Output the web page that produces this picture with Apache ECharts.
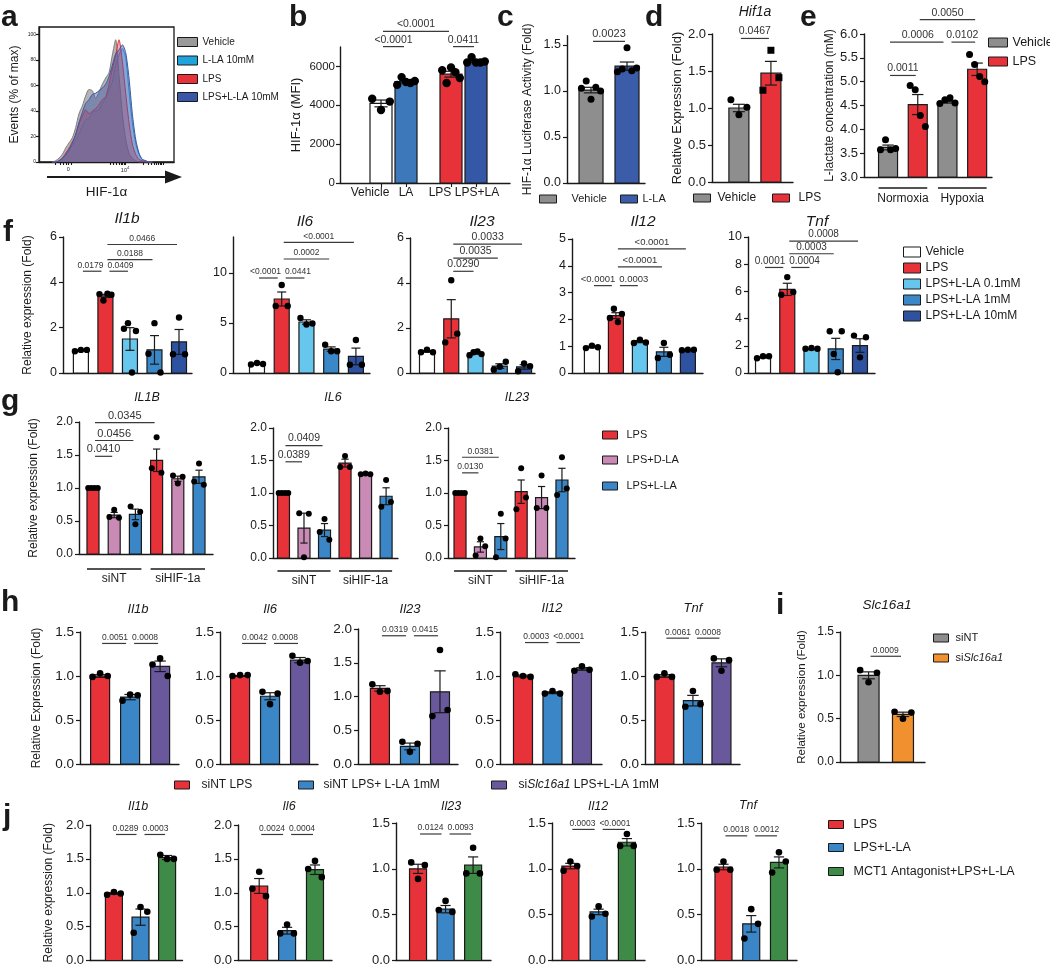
<!DOCTYPE html>
<html><head><meta charset="utf-8">
<script src="https://cdn.jsdelivr.net/npm/echarts@6.0.0/dist/echarts.min.js"></script>
<style>html,body{margin:0;padding:0;background:#fff}#c{width:1050px;height:967px}</style>
</head><body><div id="c"></div>
<script>
// ================= DATA =================
// a: flow cytometry histogram (% of max) over display channels
const aChannels = [40,50,60,70,80,90,100,110,120,130,140,150,160,170,180,190,200,210,220,230,240,250,260,270,280,290,300,310,320,330,340];
const aVehicle  = [0,1,3,6,11,15,19,27,38,44,52,57,56,50,55,61,66,70,84,96,68,38,18,7,3,1,0,0,0,0,0];
const aLLA      = [0,0,1,2,5,9,13,17,22,28,33,34,39,40,41,46,50,57,63,76,84,89,82,56,31,15,6,2,1,0,0];
const aLPS      = [0,0,1,3,7,11,16,21,30,36,41,38,40,42,45,49,51,61,73,84,96,79,54,31,14,6,2,1,0,0,0];
const aLPSLLA   = [0,0,1,3,6,10,15,22,31,39,46,49,53,54,56,58,61,67,76,85,88,92,86,66,38,18,7,2,1,0,0];
const aNames    = ['Vehicle','L-LA 10mM','LPS','LPS+L-LA 10mM'];

// b
const bCats = ['Vehicle','LA','LPS','LPS+LA'];
const bMean = [4095, 5220, 5600, 6266];
const bSem  = [175, 70, 150, 55];
const bPts  = [[4340,3760,4190],[5050,5450,5200,5150,5250],[5800,5150,5950,5700,5400],[6200,6480,6200,6200,6250]];
const bSig  = [[0,2,7800,'<0.0001'],[0,1,7020,'<0.0001'],[2,3,7020,'0.0411']];

// c
const cCats = ['Vehicle','L-LA'];
const cMean = [1.01, 1.27];
const cSem  = [0.03, 0.045];
const cPts  = [[1.03,1.11,0.91,1.04,1.0],[1.21,1.24,1.47,1.22,1.25]];
const cSig  = [[0,1,1.54,'0.0023']];

// d
const dGene = 'Hif1a';
const dCats = ['Vehicle','LPS'];
const dMean = [1.0, 1.47];
const dSem  = [0.05, 0.16];
const dPts  = [[1.11,0.91,1.01],[1.24,1.78,1.41]];
const dSig  = [[0,1,1.94,'0.0467']];

// e (order: Normoxia Vehicle, Normoxia LPS, Hypoxia Vehicle, Hypoxia LPS)
const eCats = ['Vehicle','LPS'];
const eGroups = ['Normoxia','Hypoxia'];
const eMean = [3.62, 4.52, 4.58, 5.26];
const eSem  = [0.05, 0.21, 0.03, 0.13];
const ePts  = [[3.57,3.78,3.57,3.6],[4.92,4.83,4.29,4.06],[4.54,4.62,4.66,4.55],[5.57,5.36,5.11,5.0]];
const eSig  = [[0,1,5.13,'0.0011'],[0,2,5.83,'0.0006'],[2,3,5.83,'0.0102'],[1,3,6.30,'0.0050']];

// f
const fConds = ['Vehicle','LPS','LPS+L-LA 0.1mM','LPS+L-LA 1mM','LPS+L-LA 10mM'];
const fGenes = ['Il1b','Il6','Il23','Il12','Tnf'];
const fIl1bMean = [1.0, 3.4, 1.5, 1.02, 1.37];
const fIl1bSem  = [0.02, 0.07, 0.5, 0.63, 0.55];
const fIl1bPts  = [[0.96,1.02,1.02],[3.48,3.2,3.5,3.45],[1.95,2.2,0.02,1.85],[0.85,2.2,0.02],[0.83,2.45,0.83]];
const fIl1bSig  = [[0,1,4.49,'0.0179'],[1,2,4.49,'0.0409'],[1,3,5.0,'0.0188'],[1,4,5.67,'0.0466']];
const fIl6Mean = [0.92, 7.4, 5.1, 2.39, 1.66];
const fIl6Sem  = [0.04, 0.7, 0.22, 0.22, 0.83];
const fIl6Pts  = [[0.85,1.0,0.9],[6.7,8.8,6.7],[5.5,4.85,4.95],[2.83,2.17,2.17],[0.83,3.3,0.83]];
const fIl6Sig  = [[0,1,9.5,'<0.0001'],[1,2,9.5,'0.0441'],[1,3,11.4,'0.0002'],[1,4,13.07,'<0.0001']];
const fIl23Mean = [0.96, 2.41, 0.88, 0.31, 0.27];
const fIl23Sem  = [0.04, 0.85, 0.04, 0.1, 0.1];
const fIl23Pts  = [[0.92,1.04,0.92],[1.36,4.12,1.75],[0.79,0.92,0.96,0.84],[0.15,0.28,0.5],[0.08,0.42,0.3]];
const fIl23Sig  = [[1,2,4.52,'0.0290'],[1,3,5.11,'0.0035'],[1,4,5.73,'0.0033']];
const fIl12Mean = [0.97, 2.14, 1.17, 0.79, 0.86];
const fIl12Sem  = [0.03, 0.11, 0.04, 0.17, 0.01];
const fIl12Pts  = [[0.93,1.02,0.96],[2.05,2.4,1.9,2.2],[1.12,1.24,1.14],[0.56,1.12,0.68],[0.85,0.87,0.87]];
const fIl12Sig  = [[0,1,3.26,'<0.0001'],[1,2,3.26,'0.0003'],[1,3,3.96,'<0.0001'],[1,4,4.63,'<0.0001']];
const fTnfMean = [1.15, 6.15, 1.75, 1.77, 2.02];
const fTnfSem  = [0.05, 0.45, 0.03, 0.78, 0.5];
const fTnfPts  = [[1.08,1.23,1.23],[5.75,7.05,5.95],[1.78,1.84,1.78],[3.07,1.4,0.05,3.07],[2.75,1.15,2.63]];
const fTnfSig  = [[0,1,7.76,'0.0001'],[1,2,7.76,'0.0004'],[1,3,8.77,'0.0003'],[1,4,9.7,'0.0008']];

// g (order: siNT LPS, D-LA, L-LA, siHIF-1a LPS, D-LA, L-LA)
const gConds = ['LPS','LPS+D-LA','LPS+L-LA'];
const gGroups = ['siNT','siHIF-1a'];
const gGenes = ['IL1B','IL6','IL23'];
const gIL1BMean = [1.0, 0.59, 0.6, 1.42, 1.14, 1.17];
const gIL1BSem  = [0, 0.04, 0.08, 0.17, 0.04, 0.1];
const gIL1BPts  = [[1,1,1,1],[0.56,0.67,0.55],[0.72,0.45,0.64],[1.3,1.77,1.23],[1.19,1.07,1.17],[1.1,1.37,1.05]];
const gIL1BSig  = [[0,1,1.48,'0.0410'],[0,2,1.72,'0.0456'],[0,3,1.99,'0.0345']];
const gIL6Mean = [1.0, 0.46, 0.43, 1.46, 1.29, 0.95];
const gIL6Sem  = [0, 0.23, 0.1, 0.06, 0.01, 0.13];
const gIL6Pts  = [[1,1,1,1],[0.69,0.01,0.68],[0.4,0.6,0.28],[1.4,1.57,1.4],[1.29,1.3,1.29],[0.79,1.2,0.86]];
const gIL6Sig  = [[0,1,1.48,'0.0389'],[0,2,1.73,'0.0409']];
const gIL23Mean = [1.0, 0.17, 0.33, 1.02, 0.93, 1.2];
const gIL23Sem  = [0, 0.08, 0.2, 0.18, 0.17, 0.18];
const gIL23Pts  = [[1,1,1,1],[0.04,0.3,0.18],[0.01,0.68,0.3],[0.75,1.38,0.93],[0.77,1.27,0.77],[0.97,1.55,1.07]];
const gIL23Sig  = [[0,1,1.31,'0.0130'],[0,2,1.55,'0.0381']];

// h
const hConds = ['siNT LPS','siNT LPS+ L-LA 1mM','siSlc16a1 LPS+L-LA 1mM'];
const hGenes = ['Il1b','Il6','Il23','Il12','Tnf'];
const hIl1bMean = [1.0, 0.76, 1.11], hIl1bSem = [0.015, 0.03, 0.06];
const hIl1bPts  = [[0.99,1.03,1.0],[0.72,0.79,0.78],[1.13,1.2,1.0]];
const hIl1bSig  = [[0,1,1.37,'0.0051'],[1,2,1.37,'0.0008']];
const hIl6Mean = [1.0, 0.77, 1.18], hIl6Sem = [0.005, 0.04, 0.03];
const hIl6Pts  = [[1.0,1.01,1.01],[0.82,0.68,0.8],[1.23,1.15,1.17]];
const hIl6Sig  = [[0,1,1.37,'0.0042'],[1,2,1.37,'0.0008']];
const hIl23Mean = [1.12, 0.26, 1.07], hIl23Sem = [0.04, 0.05, 0.31];
const hIl23Pts  = [[1.18,1.07,1.08],[0.33,0.18,0.3],[0.71,1.69,0.8]];
const hIl23Sig  = [[0,1,1.9,'0.0319'],[1,2,1.9,'0.0415']];
const hIl12Mean = [1.0, 0.81, 1.08], hIl12Sem = [0.01, 0.01, 0.015];
const hIl12Pts  = [[1.02,1.0,0.99],[0.8,0.83,0.8],[1.06,1.11,1.07]];
const hIl12Sig  = [[0,1,1.38,'0.0003'],[1,2,1.38,'<0.0001']];
const hTnfMean = [1.0, 0.72, 1.15], hTnfSem = [0.015, 0.06, 0.045];
const hTnfPts  = [[0.99,1.03,0.99],[0.65,0.83,0.68],[1.2,1.06,1.18]];
const hTnfSig  = [[0,1,1.43,'0.0061'],[1,2,1.43,'0.0008']];

// i
const iGene = 'Slc16a1';
const iConds = ['siNT','siSlc16a1'];
const iMean = [1.0, 0.55], iSem = [0.04, 0.025];
const iPts  = [[1.06,0.92,1.03],[0.58,0.5,0.57]];
const iSig  = [[0,1,1.22,'0.0009']];

// j
const jConds = ['LPS','LPS+L-LA','MCT1 Antagonist+LPS+L-LA'];
const jGenes = ['Il1b','Il6','Il23','Il12','Tnf'];
const jIl1bMean = [0.99, 0.64, 1.52], jIl1bSem = [0.01, 0.12, 0.03];
const jIl1bPts  = [[0.97,1.01,0.99],[0.41,0.79,0.72],[1.56,1.5,1.5]];
const jIl1bSig  = [[0,1,1.86,'0.0289'],[1,2,1.86,'0.0003']];
const jIl6Mean = [1.1, 0.44, 1.34], jIl6Sem = [0.11, 0.05, 0.07];
const jIl6Pts  = [[1.06,1.31,0.95],[0.4,0.53,0.4],[1.35,1.47,1.23]];
const jIl6Sig  = [[0,1,1.86,'0.0024'],[1,2,1.86,'0.0004']];
const jIl23Mean = [1.0, 0.56, 1.04], jIl23Sem = [0.05, 0.04, 0.09];
const jIl23Pts  = [[1.07,0.89,1.04],[0.55,0.65,0.53],[0.95,1.23,0.95]];
const jIl23Sig  = [[0,1,1.38,'0.0124'],[1,2,1.38,'0.0093']];
const jIl12Mean = [1.03, 0.53, 1.29], jIl12Sem = [0.03, 0.03, 0.04];
const jIl12Pts  = [[0.98,1.08,1.03],[0.48,0.59,0.51],[1.25,1.38,1.25]];
const jIl12Sig  = [[0,1,1.43,'0.0003'],[1,2,1.43,'<0.0001']];
const jTnfMean = [1.02, 0.4, 1.07], jTnfSem = [0.03, 0.09, 0.06];
const jTnfPts  = [[0.99,1.08,0.99],[0.24,0.56,0.4],[0.96,1.18,1.08]];
const jTnfSig  = [[0,1,1.36,'0.0018'],[1,2,1.36,'0.0012']];

// ================= STYLE / BUILD =================
const FONT = "'Liberation Sans', Arial, Helvetica, sans-serif";
const INK = '#1a1a1a';
const RED = '#e8323a', GRAY = '#8e8e8e';
const grids = [], xAxes = [], yAxes = [], seriesList = [], legends = [], graphics = [];

function panel(cfg) {
  const gi = grids.length;
  grids.push({left: cfg.L, top: cfg.T, width: cfg.R - cfg.L, height: cfg.B - cfg.T,
    show: !!cfg.box, borderColor: INK, borderWidth: cfg.box ? 1.3 : 0});
  const xa = {gridIndex: gi, type: 'value', min: cfg.xMin, max: cfg.xMax, splitLine: {show: false},
    axisLine: {show: true, onZero: false, lineStyle: {color: INK, width: 1.4}},
    axisTick: {show: false}, axisLabel: {show: false}};
  if (cfg.xTicks) xa.axisTick = {show: true, length: cfg.xTickLen || 4, lineStyle: {color: INK, width: 1.1}, customValues: cfg.xTicks};
  if (cfg.xLabelVals) xa.axisLabel = {show: true, customValues: cfg.xLabelVals, formatter: cfg.xLabelFmt,
    fontSize: cfg.xFont, fontFamily: FONT, color: INK, margin: cfg.xLabelMargin, rich: cfg.xRich || {}};
  if (cfg.xName) Object.assign(xa, {name: cfg.xName, nameLocation: 'middle', nameGap: cfg.xNameGap,
    nameTextStyle: {fontSize: cfg.xNameFont, fontFamily: FONT, color: INK}});
  xAxes.push(xa);
  const ya = {gridIndex: gi, type: 'value', min: cfg.yMin, max: cfg.yMax, splitLine: {show: false},
    axisLine: {show: true, onZero: false, lineStyle: {color: INK, width: 1.4}},
    axisTick: {show: true, length: cfg.yTickLen || 4, lineStyle: {color: INK, width: 1.2}, customValues: cfg.yTicks},
    axisLabel: {show: true, customValues: cfg.yTicks, formatter: v => Number(v).toFixed(cfg.yDec || 0),
      fontSize: cfg.yFont, fontFamily: FONT, color: INK, margin: cfg.yLabelMargin || 6}};
  if (cfg.yName) Object.assign(ya, {name: cfg.yName, nameLocation: 'middle', nameGap: cfg.yNameGap,
    nameTextStyle: {fontSize: cfg.yNameFont, fontFamily: FONT, color: INK}});
  yAxes.push(ya);
  return gi;
}

function barSeries(gi, cfg, name, color, xs, means, sems, pts, marker) {
  seriesList.push({
    type: 'custom', name, coordinateSystem: 'cartesian2d', xAxisIndex: gi, yAxisIndex: gi,
    itemStyle: {color}, silent: true, z: 2,
    data: xs.map((x, k) => [x, means[k], sems[k]]),
    encode: {x: 0, y: 1},
    renderItem(params, api) {
      const k = params.dataIndex;
      const x = api.value(0), m = api.value(1), s = api.value(2);
      const base = api.coord([x, cfg.yMin]);
      const top = api.coord([x, m]);
      const cx = top[0], bw = cfg.bw;
      const ch = [{type: 'rect', shape: {x: cx - bw / 2, y: top[1], width: bw, height: base[1] - top[1]},
        style: {fill: color, stroke: INK, lineWidth: 1.2}}];
      if (s > 0) {
        const yt = api.coord([x, m + s])[1], yb = api.coord([x, m - s])[1], cap = bw * 0.3;
        ch.push({type: 'line', shape: {x1: cx, y1: yt, x2: cx, y2: yb}, style: {stroke: INK, lineWidth: 1.2}});
        ch.push({type: 'line', shape: {x1: cx - cap, y1: yt, x2: cx + cap, y2: yt}, style: {stroke: INK, lineWidth: 1.2}});
        ch.push({type: 'line', shape: {x1: cx - cap, y1: yb, x2: cx + cap, y2: yb}, style: {stroke: INK, lineWidth: 1.2}});
      }
      const p = pts[k], n = p.length;
      p.forEach((v, j) => {
        const dx = n === 1 ? 0 : (j / (n - 1) - 0.5) * bw * (cfg.spread || 0.8);
        const py = api.coord([x, v])[1];
        if (marker === 'square') ch.push({type: 'rect', shape: {x: cx + dx - cfg.r, y: py - cfg.r, width: 2 * cfg.r, height: 2 * cfg.r}, style: {fill: '#000'}});
        else ch.push({type: 'circle', shape: {cx: cx + dx, cy: py, r: cfg.r}, style: {fill: '#000'}});
      });
      return {type: 'group', children: ch};
    }
  });
}

// approximate label width (Arial metrics) used to keep neighbouring p-value labels apart
function labelWidth(s, font) {
  let w = 0;
  for (const ch of s) w += ch === '.' ? 0.278 : (ch === '<' ? 0.584 : 0.556);
  return w * font;
}

function sigSeries(gi, xs, list, font) {
  seriesList.push({
    type: 'custom', name: '_sig', coordinateSystem: 'cartesian2d', xAxisIndex: gi, yAxisIndex: gi,
    silent: true, clip: false, z: 3,
    data: list.map(s => [xs[s[0]], xs[s[1]], s[2]]),
    encode: {x: [0, 1], y: 2},
    renderItem(params, api) {
      const idx = params.dataIndex, s = list[idx];
      const lab = s[3];
      const px = i => api.coord([xs[i], s[2]])[0];
      const a = api.coord([xs[s[0]], s[2]]), b = api.coord([xs[s[1]], s[2]]);
      const cx = (a[0] + b[0]) / 2;
      let insA = 2, insB = 2, shift = 0;
      list.forEach((o, k) => {
        if (k === idx || Math.abs(o[2] - s[2]) > 1e-9) return;
        if (o[0] === s[1]) { // right neighbour
          const oc = (px(o[0]) + px(o[1])) / 2;
          const need = (labelWidth(lab, font) + labelWidth(o[3], font)) / 2 + 4 - (oc - cx);
          if (need > 0) shift -= need / 2;
          insB = 4;
        }
        if (o[1] === s[0]) { // left neighbour
          const oc = (px(o[0]) + px(o[1])) / 2;
          const need = (labelWidth(lab, font) + labelWidth(o[3], font)) / 2 + 4 - (cx - oc);
          if (need > 0) shift += need / 2;
          insA = 4;
        }
      });
      return {type: 'group', children: [
        {type: 'line', shape: {x1: a[0] + insA, y1: a[1], x2: b[0] - insB, y2: a[1]}, style: {stroke: '#3a3a3a', lineWidth: 1.2}},
        {type: 'text', style: {text: lab, x: cx + shift, y: a[1] - 1.5, align: 'center', verticalAlign: 'bottom',
          fill: '#333', font: font + 'px ' + FONT}}
      ]};
    }
  });
}

function groupSeries(gi, cfg, xs, list, font, lineDy, textDy) {
  seriesList.push({
    type: 'custom', name: '_grp', coordinateSystem: 'cartesian2d', xAxisIndex: gi, yAxisIndex: gi,
    silent: true, clip: false, z: 3,
    data: list.map(g => [xs[g[0]], xs[g[1]], cfg.yMin]),
    encode: {x: [0, 1], y: 2},
    renderItem(params, api) {
      const lab = list[params.dataIndex][2];
      const a = api.coord([api.value(0), api.value(2)]), b = api.coord([api.value(1), api.value(2)]);
      const ext = cfg.bw * 0.5;
      return {type: 'group', children: [
        {type: 'line', shape: {x1: a[0] - ext, y1: a[1] + lineDy, x2: b[0] + ext, y2: a[1] + lineDy}, style: {stroke: INK, lineWidth: 1.4}},
        {type: 'text', style: {text: lab, x: (a[0] + b[0]) / 2, y: a[1] + textDy, align: 'center', verticalAlign: 'middle',
          fill: INK, font: font + 'px ' + FONT}}
      ]};
    }
  });
}

function barPanel(cfg, conds, colors, mean, sem, pts, sig) {
  const xs = cfg.pos || mean.map((_, i) => i);
  const gi = panel(cfg);
  const nC = conds.length;
  conds.forEach((name, c) => {
    const idx = mean.map((_, i) => i).filter(i => i % nC === c);
    barSeries(gi, cfg, name, colors[c], idx.map(i => xs[i]), idx.map(i => mean[i]), idx.map(i => sem[i]),
      idx.map(i => pts[i]), cfg.marker ? cfg.marker[c] : null);
  });
  if (sig) sigSeries(gi, xs, sig, cfg.sigFont);
  return {gi, xs};
}

function text(t, x, y, font, align, va) {
  graphics.push({type: 'text', x, y, silent: true, style: {text: t, font: font, fill: INK, align: align || 'center', verticalAlign: va || 'middle'}});
}
function legendItem(name, color, left, cy, w, h, gap, font) {
  const rowH = Math.max(h, Math.round(font * 1.15));
  legends.push({show: true, left, top: cy - rowH / 2, padding: 0, itemGap: 0, itemWidth: w, itemHeight: h,
    icon: 'rect', selectedMode: false, orient: 'horizontal',
    data: [{name, itemStyle: {color, borderColor: INK, borderWidth: 1, opacity: 1}}],
    formatter: n => n.replace('Slc16a1', '{i|Slc16a1}'),
    textStyle: {fontSize: font, fontFamily: FONT, color: INK, padding: [0, 0, 0, Math.max(0, gap - 5)],
      rich: {i: {fontStyle: 'italic', fontSize: font, fontFamily: FONT, color: INK}}}});
}

// ---- b ----
const bPos = bCats.map((c, i) => i + (i >= 2 ? 0.8 : 0));
const bLabelShift = [-0.44, 0, -0.44, 0.04];
barPanel({L: 340, T: 47, R: 510, B: 183, yMin: 0, yMax: 7000, yTicks: [0, 2000, 4000, 6000], yDec: 0, yFont: 11.5,
  yLabelMargin: 5, xMin: -1.64, xMax: 5.16, pos: bPos, bw: 22, r: 4.2, sigFont: 10.5,
  yName: 'HIF-1α (MFI)', yNameGap: 37, yNameFont: 13,
  xTicks: bPos, xLabelVals: bPos.map((p, i) => p + bLabelShift[i]), xFont: 12, xLabelMargin: 4,
  xLabelFmt: v => { let best = 0; bPos.forEach((p, i) => { if (Math.abs(p + bLabelShift[i] - v) < Math.abs(bPos[best] + bLabelShift[best] - v)) best = i; }); return bCats[best]; }
}, bCats, ['#ffffff', '#3d78ba', RED, '#3457a6'], bMean, bSem, bPts, bSig);

// ---- c ----
barPanel({L: 567, T: 35.8, R: 645, B: 183, yMin: 0, yMax: 1.6, yTicks: [0, 0.5, 1, 1.5], yDec: 1, yFont: 12.5,
  xMin: -0.667, xMax: 1.5, bw: 24, r: 3.5, sigFont: 11,
  yName: 'HIF-1α Luciferase Activity (Fold)', yNameGap: 33, yNameFont: 12}, cCats, [GRAY, '#3a5ca9'], cMean, cSem, cPts, cSig);

// ---- d ----
barPanel({L: 712, T: 34, R: 793, B: 182, yMin: 0, yMax: 2, yTicks: [0, 0.5, 1, 1.5, 2], yDec: 1, yFont: 13,
  xMin: -0.84, xMax: 1.69, bw: 20, r: 3.5, sigFont: 10.5, marker: [null, 'square'],
  yName: 'Relative Expression (Fold)', yNameGap: 22, yNameFont: 13}, dCats, [GRAY, RED], dMean, dSem, dPts, dSig);

// ---- e ----
const eCfg = {L: 864, T: 34, R: 992, B: 177, yMin: 3, yMax: 6, yTicks: [3, 3.5, 4, 4.5, 5, 5.5, 6], yDec: 1, yFont: 13,
  xMin: -0.81, xMax: 3.5, bw: 19, r: 3.5, sigFont: 10.5,
  yName: 'L-lactate concentration (mM)', yNameGap: 28, yNameFont: 12};
const eP = barPanel(eCfg, eCats, [GRAY, RED], eMean, eSem, ePts, eSig);
groupSeries(eP.gi, eCfg, eP.xs, [[0, 1, eGroups[0]], [2, 3, eGroups[1]]], 12, 11, 22);

// ---- f ----
const fColors = ['#ffffff', RED, '#67c6ee', '#3a88c8', '#2e52a0'];
const fBase = {B: 373, yMin: 0, yFont: 12.5, bw: 15, r: 3.2};
barPanel(Object.assign({}, fBase, {L: 63, T: 237, R: 192, yMax: 6, yTicks: [0, 2, 4, 6], xMin: -0.73, xMax: 4.53, sigFont: 8.5,
  yName: 'Relative expression (Fold)', yNameGap: 29, yNameFont: 12}), fConds, fColors, fIl1bMean, fIl1bSem, fIl1bPts, fIl1bSig);
barPanel(Object.assign({}, fBase, {L: 233, T: 237, R: 370, yMax: 13.6, yTicks: [0, 5, 10], xMin: -0.97, xMax: 4.57, sigFont: 8.5}),
  fConds, fColors, fIl6Mean, fIl6Sem, fIl6Pts, fIl6Sig);
barPanel(Object.assign({}, fBase, {L: 410, T: 238, R: 535, yMax: 6, yTicks: [0, 2, 4, 6], xMin: -0.7, xMax: 4.45, sigFont: 10.5}),
  fConds, fColors, fIl23Mean, fIl23Sem, fIl23Pts, fIl23Sig);
barPanel(Object.assign({}, fBase, {L: 572, T: 239, R: 703, yMax: 5, yTicks: [0, 1, 2, 3, 4, 5], xMin: -0.83, xMax: 4.63, sigFont: 9.5}),
  fConds, fColors, fIl12Mean, fIl12Sem, fIl12Pts, fIl12Sig);
barPanel(Object.assign({}, fBase, {L: 748, T: 237, R: 875, yMax: 10, yTicks: [0, 2, 4, 6, 8, 10], xMin: -0.62, xMax: 4.62, sigFont: 10}),
  fConds, fColors, fTnfMean, fTnfSem, fTnfPts, fTnfSig);

// ---- g ----
const gColors = [RED, '#c98ab6', '#3a86c6'];
const gBase = {yMin: 0, yMax: 2, yTicks: [0, 0.5, 1, 1.5, 2], yDec: 1, yFont: 12, bw: 12, r: 3};
const gGrp = [[0, 2, gGroups[0]], [3, 5, gGroups[1]]];
let gp, gc;
gc = Object.assign({}, gBase, {L: 79, T: 422, B: 554, R: 213, xMin: -0.66, xMax: 5.66, sigFont: 11,
  yName: 'Relative expression (Fold)', yNameGap: 39, yNameFont: 12});
gp = barPanel(gc, gConds, gColors, gIL1BMean, gIL1BSem, gIL1BPts, gIL1BSig);
groupSeries(gp.gi, gc, gp.xs, gGrp, 12, 15, 25);
gc = Object.assign({}, gBase, {L: 273, T: 428, B: 558, R: 398, xMin: -0.51, xMax: 5.58, sigFont: 10.5});
gp = barPanel(gc, gConds, gColors, gIL6Mean, gIL6Sem, gIL6Pts, gIL6Sig);
groupSeries(gp.gi, gc, gp.xs, gGrp, 12, 13, 23);
gc = Object.assign({}, gBase, {L: 448, T: 428, B: 558, R: 575, xMin: -0.59, xMax: 5.64, sigFont: 8.5});
gp = barPanel(gc, gConds, gColors, gIL23Mean, gIL23Sem, gIL23Pts, gIL23Sig);
groupSeries(gp.gi, gc, gp.xs, gGrp, 12, 13, 23);

// ---- h ----
const hColors = [RED, '#3a86c6', '#6a589c'];
const hBase = {B: 764, yMin: 0, yDec: 1, yFont: 13.5, bw: 19, r: 3.3, sigFont: 8.5, T: 632, yMax: 1.5, yTicks: [0, 0.5, 1, 1.5]};
barPanel(Object.assign({}, hBase, {L: 80, R: 179, xMin: -0.67, xMax: 2.63,
  yName: 'Relative Expression (Fold)', yNameGap: 37, yNameFont: 12}), hConds, hColors, hIl1bMean, hIl1bSem, hIl1bPts, hIl1bSig);
barPanel(Object.assign({}, hBase, {L: 220, R: 318, xMin: -0.67, xMax: 2.6}), hConds, hColors, hIl6Mean, hIl6Sem, hIl6Pts, hIl6Sig);
barPanel(Object.assign({}, hBase, {L: 358, R: 458, T: 629, yMax: 2, yTicks: [0, 0.5, 1, 1.5, 2], xMin: -0.73, xMax: 2.6}),
  hConds, hColors, hIl23Mean, hIl23Sem, hIl23Pts, hIl23Sig);
barPanel(Object.assign({}, hBase, {L: 500, R: 602, xMin: -0.78, xMax: 2.68}), hConds, hColors, hIl12Mean, hIl12Sem, hIl12Pts, hIl12Sig);
barPanel(Object.assign({}, hBase, {L: 645, R: 740, xMin: -0.68, xMax: 2.65}), hConds, hColors, hTnfMean, hTnfSem, hTnfPts, hTnfSig);

// ---- i ----
barPanel({L: 840, T: 632, B: 762, R: 925, yMin: 0, yMax: 1.5, yTicks: [0, 0.5, 1, 1.5], yDec: 1, yFont: 12,
  xMin: -0.83, xMax: 1.64, bw: 21, r: 3.3, sigFont: 8.5,
  yName: 'Relative expression (Fold)', yNameGap: 32, yNameFont: 11.5}, iConds, [GRAY, '#f0902e'], iMean, iSem, iPts, iSig);

// ---- j ----
const jColors = [RED, '#3a86c6', '#3e8b47'];
const jBase = {B: 962, yMin: 0, yDec: 1, yFont: 13, bw: 17, r: 3.3, sigFont: 8.5};
const j2 = {T: 825, yMax: 2, yTicks: [0, 0.5, 1, 1.5, 2]}, j15 = {T: 823, yMax: 1.5, yTicks: [0, 0.5, 1, 1.5]};
barPanel(Object.assign({}, jBase, j2, {L: 90, R: 182.5, xMin: -0.9, xMax: 2.58,
  yName: 'Relative expression (Fold)', yNameGap: 35, yNameFont: 12}), jConds, jColors, jIl1bMean, jIl1bSem, jIl1bPts, jIl1bSig);
barPanel(Object.assign({}, jBase, j2, {L: 238, R: 332, xMin: -0.76, xMax: 2.61}), jConds, jColors, jIl6Mean, jIl6Sem, jIl6Pts, jIl6Sig);
barPanel(Object.assign({}, jBase, j15, {L: 396, R: 491, xMin: -0.8, xMax: 2.65}), jConds, jColors, jIl23Mean, jIl23Sem, jIl23Pts, jIl23Sig);
barPanel(Object.assign({}, jBase, j15, {L: 552, R: 645, xMin: -0.65, xMax: 2.64}), jConds, jColors, jIl12Mean, jIl12Sem, jIl12Pts, jIl12Sig);
barPanel(Object.assign({}, jBase, j15, {L: 701, R: 797, xMin: -0.81, xMax: 2.65}), jConds, jColors, jTnfMean, jTnfSem, jTnfPts, jTnfSig);

// ---- a (flow histogram) ----
const aMinorTicks = [48, 63, 73, 83, 88, 98, 213, 223, 233, 240, 246, 251, 255, 258, 313, 328, 338, 346, 353, 358, 363, 368, 373];
const aGi = panel({L: 39, T: 27, R: 174, B: 162, box: true, yMin: 0, yMax: 106, yTicks: [0, 20, 40, 60, 80, 100], yDec: 0, yFont: 5,
  yTickLen: 3, yLabelMargin: 3, xMin: 0, xMax: 405, xTicks: aMinorTicks, xTickLen: 3,
  xLabelVals: [88, 258], xFont: 5.5, xLabelMargin: 4, xLabelFmt: v => v < 150 ? '0' : '10{s|4}',
  xRich: {s: {fontSize: 4, verticalAlign: 'top', padding: [0, 0, 4, 0]}},
  xName: 'HIF-1α', xNameGap: 23, xNameFont: 13.5,
  yName: 'Events (% of max)', yNameGap: 18, yNameFont: 12});
const aStyles = [
  {line: '#7d7d7d', fill: '#a6a6a6', op: 0.85},
  {line: '#22a3de', fill: '#22a3de', op: 0.25},
  {line: '#e8323a', fill: '#e8323a', op: 0.4},
  {line: '#3a56a7', fill: '#3a56a7', op: 0.45}];
[aVehicle, aLLA, aLPS, aLPSLLA].forEach((arr, k) => {
  seriesList.push({type: 'line', name: aNames[k], xAxisIndex: aGi, yAxisIndex: aGi, symbol: 'none', silent: true,
    smooth: 0.25, data: aChannels.map((c, i) => [c, arr[i]]),
    lineStyle: {color: aStyles[k].line, width: 1}, itemStyle: {color: aStyles[k].fill},
    areaStyle: {color: aStyles[k].fill, opacity: aStyles[k].op}, z: 2 + k});
});
graphics.push({type: 'line', silent: true, shape: {x1: 47, y1: 177, x2: 170, y2: 177}, style: {stroke: INK, lineWidth: 2.2}});
graphics.push({type: 'polygon', silent: true, shape: {points: [[165, 170.5], [182, 177], [165, 183.5]]}, style: {fill: INK}});

// ---- titles ----
const fTitleXY = [[127, 219], [305, 222], [482, 222], [643, 222], [817, 222]];
fGenes.forEach((g, k) => text(g, fTitleXY[k][0], fTitleXY[k][1], 'italic 15.5px ' + FONT));
const gTitleXY = [[147, 398], [333, 398], [517, 398]];
gGenes.forEach((g, k) => text(g, gTitleXY[k][0], gTitleXY[k][1], 'italic 12.5px ' + FONT));
const hTitleXY = [[138, 609], [270, 609], [410, 609], [552, 608], [693, 608]];
hGenes.forEach((g, k) => text(g, hTitleXY[k][0], hTitleXY[k][1], 'italic 13px ' + FONT));
const jTitleXY = [[138, 807], [289, 807], [451, 807], [598, 807], [748, 806]];
jGenes.forEach((g, k) => text(g, jTitleXY[k][0], jTitleXY[k][1], 'italic 12.5px ' + FONT));
text(iGene, 887, 605, 'italic 13.5px ' + FONT);
text(dGene, 755, 12, 'italic 14px ' + FONT);

// ---- panel letters ----
[['a', 1, 33], ['b', 289, 33], ['c', 497, 33], ['d', 645, 33], ['e', 800, 33], ['f', 3, 248], ['g', 1, 417],
 ['h', 1, 618], ['i', 776, 621], ['j', 3, 832]].forEach(l => text(l[0], l[1], l[2], 'bold 30px ' + FONT, 'left', 'bottom'));

// ---- legends ----
[['#9a9a9a', 43], ['#1ea3dd', 61.5], [RED, 80], ['#3a56a7', 98]].forEach((s, k) =>
  legendItem(aNames[k], s[0], 177, s[1], 20, 9, 5, 10));
legendItem(cCats[0], GRAY, 539, 200, 17, 8, 15, 11);
legendItem(cCats[1], '#3a5ca9', 620, 200, 17, 8, 5, 11);
legendItem(dCats[0], GRAY, 693, 199, 17, 8, 7, 12);
legendItem(dCats[1], RED, 772, 199, 17, 8, 9, 12);
legendItem(eCats[0], GRAY, 988, 43, 19, 9, 5, 12.5);
legendItem(eCats[1], RED, 988, 62, 19, 9, 5, 12.5);
fConds.forEach((n, k) => legendItem(n, fColors[k], 903, 253 + 16 * k, 17, 10, 5, 12));
gConds.forEach((n, k) => legendItem(n, gColors[k], 602, [436, 461, 487][k], 15, 8, 9, 11));
[[174, 12], [298, 10], [491, 12]].forEach((s, k) => legendItem(hConds[k], hColors[k], s[0], 786, 15, 8, s[1], 12));
legendItem(iConds[0], GRAY, 933, 639, 15, 8, 7, 11);
legendItem(iConds[1], '#f0902e', 933, 659, 15, 8, 7, 11);
jConds.forEach((n, k) => legendItem(n, jColors[k], 828, [825, 848, 872][k], 15, 8, 10, 12.5));

const chart = echarts.init(document.getElementById('c'), null, {renderer: 'canvas'});
chart.setOption({
  animation: false, backgroundColor: '#ffffff',
  textStyle: {fontFamily: FONT},
  grid: grids, xAxis: xAxes, yAxis: yAxes, series: seriesList, legend: legends, graphic: graphics
});
</script></body></html>
